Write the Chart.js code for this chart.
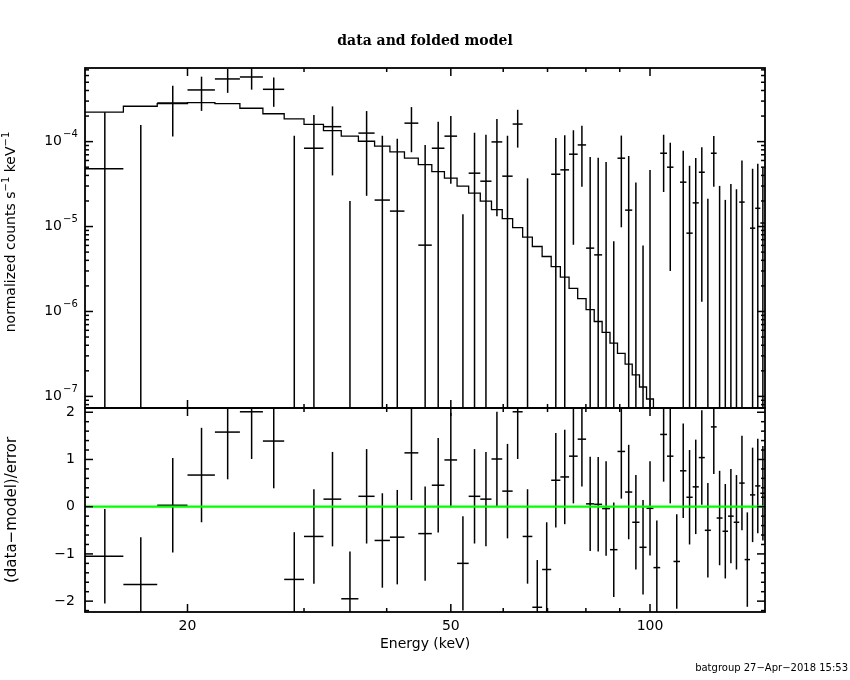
<!DOCTYPE html>
<html><head><meta charset="utf-8">
<script src="https://cdn.jsdelivr.net/npm/chart.js@4"></script>
<style>
html,body{margin:0;padding:0;background:#fff;}
#wrap{position:relative;width:850px;height:680px;background:#fff;overflow:hidden;}
canvas{position:absolute;left:0;top:0;}
.t{position:absolute;white-space:nowrap;color:#000;font-family:"DejaVu Sans",sans-serif;transform:translate(-50%,-50%);line-height:1;}
.rot{transform:translate(-50%,-50%) rotate(-90deg);}
sup{font-size:10px;vertical-align:0;position:relative;top:-6px;}
</style></head><body>
<div id="wrap">
<canvas id="top" width="850" height="680"></canvas>
<canvas id="bot" width="850" height="680"></canvas>
<div class="t" style="left:425px;top:40px;font-family:'DejaVu Serif',serif;font-weight:bold;font-size:14px;">data and folded model</div>
<div class="t rot" style="left:10px;top:232px;font-size:14px;">normalized counts s<sup>−1</sup> keV<sup>−1</sup></div>
<div class="t rot" style="left:11px;top:510px;font-size:15px;">(data−model)/error</div>
<div class="t" style="left:425px;top:643px;font-size:14px;">Energy (keV)</div>
<div class="t" style="right:2px;top:668px;font-size:10px;transform:translateY(-50%);">batgroup 27−Apr−2018 15:53</div>
</div>
<script>
// Energy bin edges (keV), 59 bins
const binEdges = [14,16,18,20,22,24,26,28,30,32.1,34.15,36.25,38.35,40.45,42.55,44.65,46.8,48.9,
  51.1,53.2,55.4,57.6,59.8,62.0,64.2,66.4,68.7,70.9,73.2,75.45,77.75,80.05,82.35,84.65,87.0,89.3,
  91.7,94.0,96.4,98.8,101.2,103.6,106.1,108.5,111.0,113.5,116.0,118.5,121.0,123.6,126.1,128.7,
  131.2,133.8,136.4,139.0,141.6,144.2,146.8,149.4];

// folded model (normalized counts s^-1 keV^-1)
const modelRate = [2.22e-4,2.61e-4,2.80e-4,2.88e-4,2.80e-4,2.47e-4,2.13e-4,1.85e-4,1.60e-4,1.35e-4,
  1.16e-4,1.01e-4,8.83e-5,7.56e-5,6.38e-5,5.36e-5,4.44e-5,3.71e-5,2.99e-5,2.47e-5,
  1.99e-5,1.58e-5,1.24e-5,9.73e-6,7.50e-6,5.82e-6,4.44e-6,3.38e-6,2.54e-6,1.87e-6,
  1.42e-6,1.05e-6,7.62e-7,5.66e-7,4.25e-7,3.21e-7,2.40e-7,1.79e-7,1.29e-7,9.32e-8,
  6.6e-8,4.6e-8,3.2e-8,2.2e-8,1.5e-8,1.0e-8,7.0e-9,4.8e-9,3.2e-9,2.2e-9,
  1.5e-9,1.0e-9,6.8e-10,4.6e-10,3.1e-10,2.1e-10,1.4e-10,9.5e-11,6.4e-11];

// data values and 1-sigma errors
const dataRate = [4.8e-5,-4.0e-6,2.85e-4,4.06e-4,5.47e-4,5.77e-4,4.13e-4,-9.0e-6,8.36e-5,1.50e-4,
  -8.1e-5,1.26e-4,2.05e-5,1.52e-5,1.65e-4,6.04e-6,8.36e-5,1.16e-4,-6.5e-5,4.25e-5,
  3.42e-5,9.92e-5,3.92e-5,1.61e-4,-4.2e-5,-1.54e-4,-9.5e-5,4.13e-5,4.65e-5,7.11e-5,
  9.14e-5,5.57e-6,4.64e-6,-1.8e-6,-6.0e-5,6.38e-5,1.56e-5,-1.6e-5,-3.9e-5,-1.6e-6,
  -6.5e-5,7.3e-5,5.0e-5,-5.2e-5,3.33e-5,8.36e-6,1.9e-5,4.36e-5,-2.12e-5,7.3e-5,
  -9.5e-6,-2.24e-5,-8.0e-6,-1.35e-5,1.94e-5,-4.5e-5,9.57e-6,1.64e-5,1.1e-5];
const dataErr = [1.74e-4,1.61e-4,1.70e-4,1.76e-4,1.72e-4,1.68e-4,1.56e-4,1.26e-4,1.22e-4,1.10e-4,
  1.01e-4,1.03e-4,9.65e-5,9.3e-5,9.0e-5,8.5e-5,8.8e-5,8.4e-5,7.9e-5,8.5e-5,
  8.6e-5,8.6e-5,7.8e-5,7.6e-5,7.9e-5,7.5e-5,7.5e-5,6.9e-5,7.2e-5,6.5e-5,
  6.2e-5,6.05e-5,6.0e-5,5.95e-5,6.67e-5,5.4e-5,5.2e-5,4.9e-5,4.5e-5,4.8e-5,
  5.0e-5,4.75e-5,4.7e-5,4.5e-5,4.5e-5,4.35e-5,4.5e-5,4.23e-5,4.24e-5,4.35e-5,
  3.96e-5,4.3e-5,3.98e-5,4.1e-5,4.04e-5,4.0e-5,3.82e-5,3.83e-5,3.85e-5];

// residuals (data-model)/error, each with unit error bar
const residual = [-1.05,-1.645,0.03,0.67,1.58,2.01,1.39,-1.54,-0.63,0.16,
  -1.95,0.22,-0.715,-0.645,1.14,-0.57,0.455,0.99,-1.2,0.22,
  0.16,1.01,0.33,2.01,-0.63,-2.13,-1.33,0.56,0.63,1.07,
  1.43,0.06,0.05,-0.04,-0.91,1.17,0.31,-0.33,-0.86,-0.035,
  -1.29,1.53,1.07,-1.16,0.76,0.2,0.42,1.04,-0.5,1.69,
  -0.24,-0.52,-0.2,-0.33,0.5,-1.12,0.25,0.44,0.285];
const residualSigma = 1;

// axis ticks
const xMajorTicks = [20, 50, 100];
const xMinorTicks = [30, 40, 60, 70, 80, 90];
const yTopExponents = [-7, -6, -5, -4];
const residTickLabels = [-2, -1, 0, 1, 2];

const X_MIN = 14, X_MAX = 149.2;
const FONT = '"DejaVu Sans", sans-serif';

const binCenters = binEdges.slice(0, -1).map((e, i) => (e + binEdges[i + 1]) / 2);

function drawCrosses(chart, vals, errs, isLog) {
  const {ctx, chartArea: a, scales: {x, y}} = chart;
  ctx.save();
  ctx.beginPath(); ctx.rect(a.left, a.top, a.right - a.left, a.bottom - a.top); ctx.clip();
  ctx.strokeStyle = '#000'; ctx.lineWidth = 1.5; ctx.lineCap = 'butt';
  const py = v => (isLog && v <= 0) ? a.bottom + 20 : y.getPixelForValue(v);
  for (let i = 0; i < vals.length; i++) {
    const v = vals[i], e = Array.isArray(errs) ? errs[i] : errs;
    const hi = v + e, lo = v - e;
    if (isLog && hi <= 0) continue;
    const xc = x.getPixelForValue(binCenters[i]);
    ctx.beginPath(); ctx.moveTo(xc, py(hi)); ctx.lineTo(xc, py(lo)); ctx.stroke();
    if (!isLog || v > 0) {
      const yv = py(v);
      ctx.beginPath();
      ctx.moveTo(x.getPixelForValue(binEdges[i]), yv);
      ctx.lineTo(x.getPixelForValue(binEdges[i + 1]), yv);
      ctx.stroke();
    }
  }
  ctx.restore();
}

function drawFrame(chart, panel) {
  const {ctx, chartArea: a, scales: {x, y}} = chart;
  ctx.save();
  ctx.strokeStyle = '#000';
  const tick = (x1, y1, x2, y2) => { ctx.beginPath(); ctx.moveTo(x1, y1); ctx.lineTo(x2, y2); ctx.stroke(); };
  ctx.lineWidth = 1.5;
  xMajorTicks.forEach(v => { const p = x.getPixelForValue(v); tick(p, a.bottom, p, a.bottom - 8); tick(p, a.top, p, a.top + 8); });
  xMinorTicks.forEach(v => { const p = x.getPixelForValue(v); tick(p, a.bottom, p, a.bottom - 4); tick(p, a.top, p, a.top + 4); });
  if (panel === 'top') {
    for (let n = -8; n <= -3; n++) {
      for (let k = 1; k <= 9; k++) {
        const v = k * Math.pow(10, n);
        if (v < y.min || v > y.max) continue;
        const p = y.getPixelForValue(v), len = k === 1 ? 8 : 4;
        tick(a.left, p, a.left + len, p); tick(a.right, p, a.right - len, p);
      }
    }
    ctx.fillStyle = '#000'; ctx.textBaseline = 'middle';
    yTopExponents.forEach(n => {
      const p = y.getPixelForValue(Math.pow(10, n));
      ctx.font = '14px ' + FONT; ctx.textAlign = 'right'; ctx.fillText('10', 62, p);
      ctx.font = '10px ' + FONT; ctx.textAlign = 'left'; ctx.fillText('\u2212' + Math.abs(n), 63, p - 7);
    });
  } else {
    for (let i = -11; i <= 10; i++) {
      const v = i / 5;
      if (v < y.min || v > y.max) continue;
      const p = y.getPixelForValue(v), len = (i % 5 === 0) ? 8 : 4;
      tick(a.left, p, a.left + len, p); tick(a.right, p, a.right - len, p);
    }
    ctx.fillStyle = '#000'; ctx.textBaseline = 'middle';
    ctx.font = '14px ' + FONT; ctx.textAlign = 'right';
    residTickLabels.forEach(v => {
      ctx.fillText(v < 0 ? '\u2212' + Math.abs(v) : String(v), 75, y.getPixelForValue(v));
    });
    ctx.textAlign = 'center';
    xMajorTicks.forEach(v => ctx.fillText(String(v), x.getPixelForValue(v), 626));
  }
  ctx.lineWidth = 1.8;
  ctx.strokeRect(a.left, a.top, a.right - a.left, a.bottom - a.top);
  ctx.restore();
}

const baseOpts = (pad, yScale) => ({
  responsive: false, animation: false, events: [],
  layout: {padding: pad},
  plugins: {legend: {display: false}, tooltip: {enabled: false}, title: {display: false}},
  scales: {
    x: {type: 'logarithmic', min: X_MIN, max: X_MAX, display: false},
    y: yScale
  }
});

new Chart(document.getElementById('top'), {
  type: 'line',
  data: {datasets: [
    {label: 'model', data: binEdges.map((e, i) => ({x: e, y: modelRate[Math.min(i, modelRate.length - 1)]})),
     stepped: 'before', borderColor: '#000', borderWidth: 1.3, pointRadius: 0, fill: false},
    {label: 'data', data: binCenters.map((c, i) => ({x: c, y: dataRate[i]})),
     showLine: false, pointRadius: 0, borderColor: '#000'}
  ]},
  options: baseOpts({left: 85, right: 85, top: 68, bottom: 272},
    {type: 'logarithmic', min: 7.3e-8, max: 7.36e-4, display: false}),
  plugins: [{
    id: 'topPanel',
    beforeDatasetsDraw: c => drawCrosses(c, dataRate, dataErr, true),
    afterDraw: c => drawFrame(c, 'top')
  }]
});

new Chart(document.getElementById('bot'), {
  type: 'line',
  data: {datasets: [
    {label: 'zero', data: [{x: X_MIN, y: 0}, {x: X_MAX, y: 0}], borderColor: '#00ff00', borderWidth: 2.2, pointRadius: 0},
    {label: 'residual', data: binCenters.map((c, i) => ({x: c, y: residual[i]})),
     showLine: false, pointRadius: 0, borderColor: '#000'}
  ]},
  options: baseOpts({left: 85, right: 85, top: 408, bottom: 68},
    {type: 'linear', min: -2.23, max: 2.09, display: false}),
  plugins: [{
    id: 'botPanel',
    beforeDatasetsDraw: c => drawCrosses(c, residual, residualSigma, false),
    afterDraw: c => drawFrame(c, 'bot')
  }]
});
</script>
</body></html>
